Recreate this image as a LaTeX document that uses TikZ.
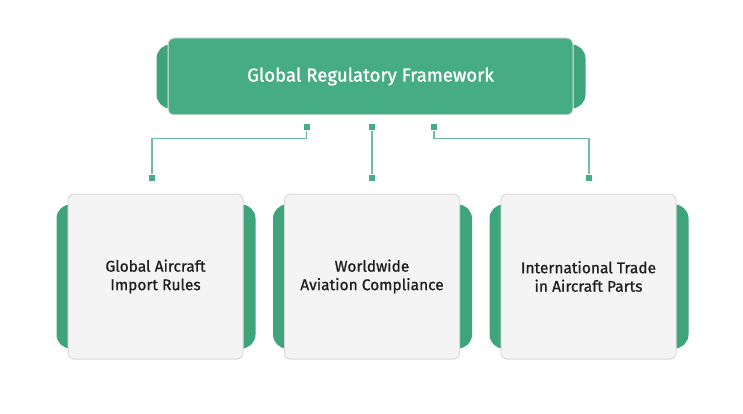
\documentclass[tikz,border=0pt]{standalone}
\usepackage{fontspec}
\setmainfont{Fira Sans}
\newfontfamily\medfont{Fira Sans}[FakeBold=0.8]
\newfontfamily\headfont{Fira Sans}[FakeBold=1.3]
\definecolor{leaf}{HTML}{46AC83}
\definecolor{leafdark}{HTML}{3FA47C}
\definecolor{wire}{HTML}{6CBF9E}
\definecolor{paper}{HTML}{F4F4F4}
\definecolor{ink}{HTML}{1E1E1E}
\usetikzlibrary{positioning, backgrounds}
\tikzset{
  tab/.style={fill=leafdark, rounded corners=14pt},
  head/.style={fill=leaf, draw=black!10, line width=1pt, rounded corners=6pt,
               minimum width=405pt, minimum height=77pt, text=white,
               font=\fontsize{18.6}{22}\headfont},
  cardbox/.style={fill=paper, draw=black!14, line width=1pt, rounded corners=6pt,
                  minimum width=175pt, minimum height=165pt, align=center, text=ink,
                  font=\fontsize{15.5}{18.5}\medfont},
  link/.style={draw=wire, line width=1.8pt},
  dot/.style={fill=leaf, minimum size=6pt, inner sep=0pt},
}

\begin{document}
\begin{tikzpicture}[x=1pt,y=-1pt,node distance=40.5pt]
\useasboundingbox (0,0) rectangle (743,414);
\node[head] (head) at (370.5,76.5) {Global Regulatory Framework};
\node[cardbox] (c1) at (155.5,276.5) {Global Aircraft\\Import Rules};
\node[cardbox,right=of c1] (c2) {Worldwide\\Aviation Compliance};
\node[cardbox,right=of c2] (c3) {International Trade\\in Aircraft Parts};
% green tabs behind the boxes
\begin{scope}[on background layer]
\fill[tab] ([xshift=-11pt,yshift=-7pt]head.north west) rectangle ([xshift=12pt,yshift=7pt]head.south east);
\fill[tab] ([xshift=-11pt,yshift=-11pt]c1.north west) rectangle ([xshift=12pt,yshift=11pt]c1.south east);
\fill[tab] ([xshift=-11pt,yshift=-11pt]c2.north west) rectangle ([xshift=12pt,yshift=11pt]c2.south east);
\fill[tab] ([xshift=-11pt,yshift=-11pt]c3.north west) rectangle ([xshift=12pt,yshift=11pt]c3.south east);
\end{scope}
\node[dot] (h1) at ([xshift=-64pt,yshift=-12pt]head.south) {};
\node[dot] (h2) at ([xshift=1.5pt,yshift=-12pt]head.south) {};
\node[dot] (h3) at ([xshift=63.5pt,yshift=-12pt]head.south) {};
\node[dot] (b1) at ([xshift=-3.5pt,yshift=16pt]c1.north) {};
\node[dot] (b2) at ([yshift=16pt]c2.north) {};
\node[dot] (b3) at ([xshift=0.5pt,yshift=16pt]c3.north) {};
\draw[link] (h1) -- ++(0,11) -| (b1);
\draw[link] (h2) -- (b2);
\draw[link] (h3) -- ++(0,11) -| (b3);
\end{tikzpicture}
\end{document}
